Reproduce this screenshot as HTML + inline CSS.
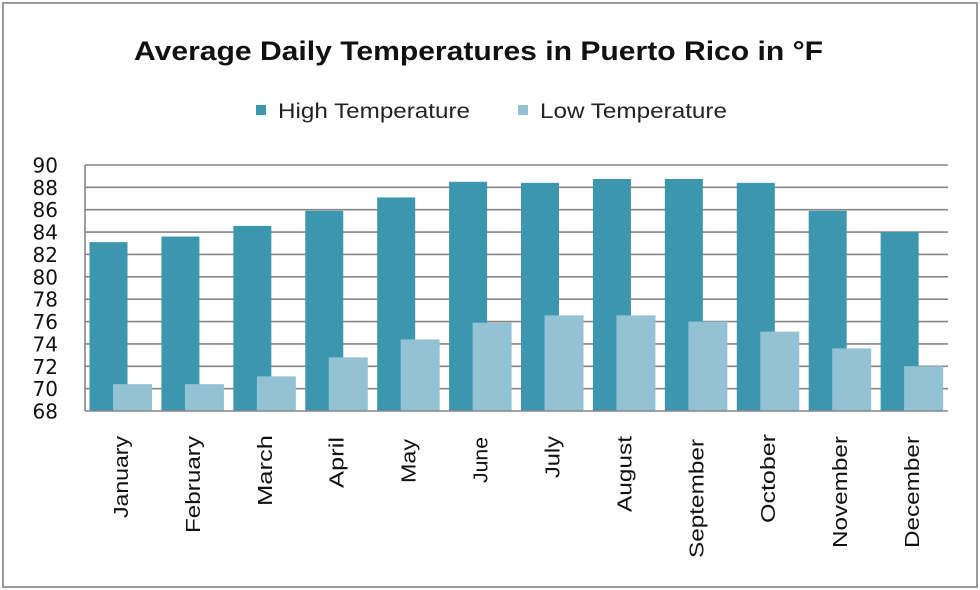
<!DOCTYPE html>
<html><head><meta charset="utf-8"><style>
html,body{margin:0;padding:0;background:#fff;}
svg{display:block;}
</style></head><body>
<svg width="980" height="590" viewBox="0 0 980 590" xmlns="http://www.w3.org/2000/svg">
<rect x="0" y="0" width="980" height="590" fill="#fff"/>
<rect x="3" y="3" width="974" height="584" fill="none" stroke="#9a9a9a" stroke-width="2"/>

<text x="134" y="60" font-family="Liberation Sans, sans-serif" font-weight="bold" font-size="27" fill="#111" textLength="689" lengthAdjust="spacingAndGlyphs">Average Daily Temperatures in Puerto Rico in °F</text>

<rect x="256" y="105" width="10" height="10" fill="#3b96ae"/>
<text x="278" y="118" font-family="Liberation Sans, sans-serif" font-size="21" fill="#222" textLength="192" lengthAdjust="spacingAndGlyphs">High Temperature</text>
<rect x="518" y="105" width="10" height="10" fill="#93c2d4"/>
<text x="540" y="118" font-family="Liberation Sans, sans-serif" font-size="21" fill="#222" textLength="187" lengthAdjust="spacingAndGlyphs">Low Temperature</text>

<g stroke="#858585" stroke-width="1.6">
<line x1="85" y1="388.64" x2="948" y2="388.64"/>
<line x1="85" y1="366.27" x2="948" y2="366.27"/>
<line x1="85" y1="343.91" x2="948" y2="343.91"/>
<line x1="85" y1="321.55" x2="948" y2="321.55"/>
<line x1="85" y1="299.18" x2="948" y2="299.18"/>
<line x1="85" y1="276.82" x2="948" y2="276.82"/>
<line x1="85" y1="254.45" x2="948" y2="254.45"/>
<line x1="85" y1="232.09" x2="948" y2="232.09"/>
<line x1="85" y1="209.73" x2="948" y2="209.73"/>
<line x1="85" y1="187.36" x2="948" y2="187.36"/>
<line x1="85" y1="165" x2="948" y2="165"/>
</g>

<g fill="#3b96ae">
<rect x="89.5" y="242.15" width="38" height="168.85"/>
<rect x="161.42" y="236.56" width="38" height="174.44"/>
<rect x="233.34" y="225.94" width="38" height="185.06"/>
<rect x="305.26" y="210.84" width="38" height="200.16"/>
<rect x="377.18" y="197.42" width="38" height="213.58"/>
<rect x="449.1" y="181.77" width="38" height="229.23"/>
<rect x="521.02" y="182.89" width="38" height="228.11"/>
<rect x="592.94" y="178.97" width="38" height="232.03"/>
<rect x="664.86" y="178.97" width="38" height="232.03"/>
<rect x="736.78" y="182.89" width="38" height="228.11"/>
<rect x="808.7" y="210.84" width="38" height="200.16"/>
<rect x="880.62" y="232.09" width="38" height="178.91"/>
</g>
<g fill="#93c2d4">
<rect x="113" y="384.16" width="39" height="26.84"/>
<rect x="184.92" y="384.16" width="39" height="26.84"/>
<rect x="256.84" y="376.34" width="39" height="34.66"/>
<rect x="328.76" y="357.33" width="39" height="53.67"/>
<rect x="400.68" y="339.44" width="39" height="71.56"/>
<rect x="472.6" y="322.66" width="39" height="88.34"/>
<rect x="544.52" y="315.39" width="39" height="95.61"/>
<rect x="616.44" y="315.39" width="39" height="95.61"/>
<rect x="688.36" y="321.55" width="39" height="89.45"/>
<rect x="760.28" y="331.61" width="39" height="79.39"/>
<rect x="832.2" y="348.38" width="39" height="62.62"/>
<rect x="904.12" y="366.27" width="39" height="44.73"/>
</g>

<line x1="85" y1="165" x2="85" y2="411" stroke="#858585" stroke-width="1.6"/>
<line x1="85" y1="411" x2="948" y2="411" stroke="#858585" stroke-width="1.6"/>

<g font-family="DejaVu Sans, sans-serif" font-size="20" fill="#111" text-anchor="end">
<text x="58" y="418.5">68</text>
<text x="58" y="396.14">70</text>
<text x="58" y="373.77">72</text>
<text x="58" y="351.41">74</text>
<text x="58" y="329.05">76</text>
<text x="58" y="306.68">78</text>
<text x="58" y="284.32">80</text>
<text x="58" y="261.95">82</text>
<text x="58" y="239.59">84</text>
<text x="58" y="217.23">86</text>
<text x="58" y="194.86">88</text>
<text x="58" y="172.5">90</text>
</g>

<g font-family="Liberation Sans, sans-serif" font-size="20" fill="#111" text-anchor="end" lengthAdjust="spacingAndGlyphs">
<text transform="translate(128,436) rotate(-90)" textLength="82" lengthAdjust="spacingAndGlyphs">January</text>
<text transform="translate(199.9,436) rotate(-90)" textLength="97" lengthAdjust="spacingAndGlyphs">February</text>
<text transform="translate(271.8,435) rotate(-90)" textLength="71" lengthAdjust="spacingAndGlyphs">March</text>
<text transform="translate(343.7,437) rotate(-90)" textLength="51" lengthAdjust="spacingAndGlyphs">April</text>
<text transform="translate(415.6,439) rotate(-90)" textLength="44" lengthAdjust="spacingAndGlyphs">May</text>
<text transform="translate(487.6,437) rotate(-90)" textLength="46" lengthAdjust="spacingAndGlyphs">June</text>
<text transform="translate(559.5,436) rotate(-90)" textLength="42" lengthAdjust="spacingAndGlyphs">July</text>
<text transform="translate(631.4,436) rotate(-90)" textLength="76" lengthAdjust="spacingAndGlyphs">August</text>
<text transform="translate(703.3,439) rotate(-90)" textLength="119" lengthAdjust="spacingAndGlyphs">September</text>
<text transform="translate(775.2,434) rotate(-90)" textLength="89" lengthAdjust="spacingAndGlyphs">October</text>
<text transform="translate(847.2,436) rotate(-90)" textLength="112" lengthAdjust="spacingAndGlyphs">November</text>
<text transform="translate(919.1,436) rotate(-90)" textLength="112" lengthAdjust="spacingAndGlyphs">December</text>
</g>
</svg>
</body></html>
